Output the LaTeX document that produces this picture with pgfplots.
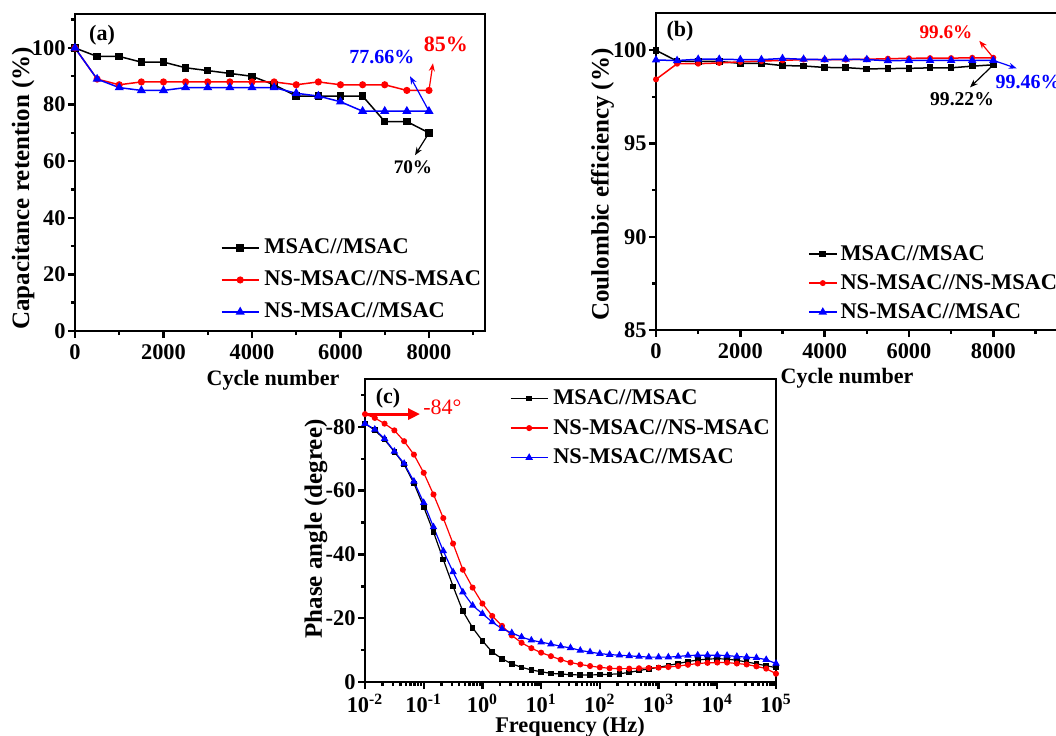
\documentclass[border=0pt]{standalone}
\usepackage{fontspec}
\setmainfont{Liberation Serif}
\usepackage{pgfplots}
\pgfplotsset{compat=1.18}
\usetikzlibrary{arrows.meta}
\definecolor{myred}{RGB}{255,0,0}
\definecolor{myblue}{RGB}{0,0,255}
\newcommand\tickfont{\bfseries\fontsize{11.2}{13}\selectfont}
\newcommand\labfont{\bfseries\fontsize{12.5}{15}\selectfont}
\pgfplotsset{
 base/.style={
  scale only axis, clip=false,
  axis line style={line width=1.3pt},
  every tick/.style={line width=1.2pt, black},
  major tick length=3.5pt,
  minor tick length=2pt,
  tick align=outside,
  tick pos=left,
  tick label style={font=\tickfont},
  yticklabel style={inner sep=1pt},
  legend cell align=left,
  legend style={draw=none, fill=none, inner sep=0pt, outer sep=0pt, anchor=west,
     font=\tickfont, row sep=6pt, column sep=2.5pt,
     nodes={inner sep=0pt, text height=8pt, text depth=2pt}},
 },
 limg/.style={legend image code/.code={\draw[mark repeat=2,mark phase=2,##1] plot coordinates {(0pt,0pt) (#1/2,0pt) (#1,0pt)};}},
}
\pgfplotstableread{
x y
0 100
500 97
1000 97
1500 95
2000 95
2500 93
3000 92
3500 91
4000 90
4500 87
5000 83
5500 83
6000 83
6500 83
7000 74
7500 74
8000 70
}\retA
\pgfplotstableread{
x y
0 100
500 89
1000 87
1500 88
2000 88
2500 88
3000 88
3500 88
4000 88
4500 88
5000 87
5500 88
6000 87
6500 87
7000 87
7500 85
8000 85
}\retB
\pgfplotstableread{
x y
0 100
500 89
1000 86
1500 85
2000 85
2500 86
3000 86
3500 86
4000 86
4500 86
5000 84
5500 83
6000 81
6500 77.66
7000 77.66
7500 77.66
8000 77.66
}\retC
\pgfplotstableread{
x y
0 100
500 99.42
1000 99.40
1500 99.40
2000 99.30
2500 99.30
3000 99.18
3500 99.16
4000 99.08
4500 99.07
5000 99.00
5500 99.02
6000 99.03
6500 99.06
7000 99.06
7500 99.15
8000 99.22
}\ceA
\pgfplotstableread{
x y
0 98.44
500 99.28
1000 99.28
1500 99.32
2000 99.38
2500 99.42
3000 99.46
3500 99.50
4000 99.50
4500 99.50
5000 99.52
5500 99.55
6000 99.57
6500 99.58
7000 99.58
7500 99.60
8000 99.60
}\ceB
\pgfplotstableread{
x y
0 99.48
500 99.45
1000 99.52
1500 99.52
2000 99.50
2500 99.50
3000 99.56
3500 99.52
4000 99.50
4500 99.52
5000 99.50
5500 99.44
6000 99.46
6500 99.46
7000 99.46
7500 99.46
8000 99.46
}\ceC
\pgfplotstableread{
f a b c
0.01 -81.0 -84.0 -81.0
0.01468 -79.0 -82.8 -79.2
0.02154 -76.0 -81.0 -76.3
0.03162 -72.2 -78.9 -72.3
0.04642 -68.2 -75.5 -68.5
0.06813 -62.3 -71.3 -62.9
0.1 -54.9 -65.6 -56.2
0.1468 -47.0 -58.8 -48.6
0.2154 -38.4 -51.4 -41.1
0.3162 -30.0 -43.4 -34.5
0.4642 -22.2 -35.2 -28.2
0.6813 -17.0 -29.6 -24.0
1 -12.9 -24.6 -21.4
1.468 -9.4 -20.7 -18.8
2.154 -7.3 -17.6 -16.7
3.162 -5.7 -14.6 -15.4
4.642 -4.6 -12.3 -14.1
6.813 -3.8 -10.6 -13.1
10 -3.2 -9.2 -12.5
14.68 -2.7 -8.1 -11.9
21.54 -2.5 -7.0 -11.2
31.62 -2.3 -6.1 -10.7
46.42 -2.2 -5.5 -9.9
68.13 -2.2 -5.0 -9.4
100 -2.3 -4.6 -8.9
146.8 -2.4 -4.3 -8.6
215.4 -2.6 -4.2 -8.4
316.2 -3.0 -4.2 -8.2
464.2 -3.6 -4.3 -8.0
681.3 -4.1 -4.4 -7.8
1000 -4.6 -4.5 -7.8
1468 -5.2 -4.7 -7.8
2154 -5.8 -5.0 -8.0
3162 -6.4 -5.4 -8.3
4642 -6.9 -5.8 -8.4
6813 -7.2 -6.0 -8.4
10000 -7.3 -6.1 -8.4
14680 -7.2 -6.1 -8.3
21540 -6.8 -5.8 -8.0
31620 -6.3 -5.5 -7.8
46420 -5.7 -4.9 -7.6
68130 -5.1 -4.2 -7.0
100000 -4.5 -2.6 -5.8
}\phase
\begin{document}
\begin{tikzpicture}
\useasboundingbox (0,0) rectangle (528pt,367.5pt);
\clip (0,0) rectangle (528pt,367.5pt);
% (a)
\begin{axis}[base, limg=18.5pt, at={(37.5pt,202pt)}, anchor=south west,
  width=205pt, height=158.5pt, xmin=0, xmax=9266, ymin=0, ymax=112,
  xtick={0,2000,4000,6000,8000}, xticklabels={0,2000,4000,6000,8000},
  minor xtick={1000,3000,5000,7000,9000},
  ytick={0,20,40,60,80,100}, yticklabels={0,20,40,60,80,100},
  minor ytick={10,30,50,70,90,110},
  legend style={at={(axis description cs:0.356,0.161)}}]
\addplot[black, line width=0.75pt, mark=square*, mark size=1.5pt] table[x=x,y=y] {\retA};
\addlegendentry{MSAC//MSAC}
\addplot[myred, line width=0.75pt, mark=*, mark size=1.4pt] table[x=x,y=y] {\retB};
\addlegendentry{NS-MSAC//NS-MSAC}
\addplot[myblue, line width=0.75pt, mark=triangle*, mark size=1.9pt] table[x=x,y=y] {\retC};
\addlegendentry{NS-MSAC//MSAC}
\draw[myblue, line width=0.6pt, -{Stealth[length=4pt,width=3pt]}] (axis cs:8000,77.66) -- (axis cs:7571,90);
\draw[myred, line width=0.6pt, -{Stealth[length=4pt,width=3pt]}] (axis cs:8000,85) -- (axis cs:8090,94.6);
\draw[black, line width=0.6pt, -{Stealth[length=4pt,width=3pt]}] (axis cs:8000,70) -- (axis cs:7684,62.1);
\node[myblue, font=\bfseries\fontsize{10}{12}\selectfont, inner sep=0pt] at (axis cs:6938,96.7) {77.66\%};
\node[myred, font=\bfseries\fontsize{11}{13}\selectfont, inner sep=0pt] at (axis cs:8384,101.3) {85\%};
\node[black, font=\bfseries\fontsize{9.6}{12}\selectfont, inner sep=0pt] at (axis cs:7638,57.9) {70\%};
\end{axis}
% (b)
\begin{axis}[base, limg=14pt, at={(328pt,202.5pt)}, anchor=south west,
  width=206.6pt, height=158.5pt, xmin=0, xmax=9800, ymin=85, ymax=102,
  xtick={0,2000,4000,6000,8000}, xticklabels={0,2000,4000,6000,8000},
  minor xtick={1000,3000,5000,7000,9000},
  ytick={85,90,95,100}, yticklabels={85,90,95,100},
  minor ytick={87.5,92.5,97.5},
  legend style={at={(axis description cs:0.368,0.148)}, row sep=4.5pt, column sep=1.5pt}]
\addplot[black, line width=0.75pt, mark=square*, mark size=1.3pt] table[x=x,y=y] {\ceA};
\addlegendentry{MSAC//MSAC}
\addplot[myred, line width=0.75pt, mark=*, mark size=1.1pt] table[x=x,y=y] {\ceB};
\addlegendentry{NS-MSAC//NS-MSAC}
\addplot[myblue, line width=0.75pt, mark=triangle*, mark size=1.7pt] table[x=x,y=y] {\ceC};
\addlegendentry{NS-MSAC//MSAC}
\draw[myred, line width=0.6pt, -{Stealth[length=4pt,width=3pt]}] (axis cs:8000,99.6) -- (axis cs:7668,100.51);
\draw[myblue, line width=0.6pt, -{Stealth[length=4pt,width=3pt]}] (axis cs:8000,99.46) -- (axis cs:8555,99.03);
\draw[black, line width=0.6pt, -{Stealth[length=4pt,width=3pt]}] (axis cs:8000,99.22) -- (axis cs:7447,98.01);
\node[myred, font=\bfseries\fontsize{9.6}{12}\selectfont, inner sep=0pt] at (axis cs:6878,100.97) {99.6\%};
\node[myblue, font=\bfseries\fontsize{10}{12}\selectfont, inner sep=0pt, anchor=west] at (axis cs:8047,98.28) {99.46\%};
\node[black, font=\bfseries\fontsize{9.8}{12}\selectfont, inner sep=0pt] at (axis cs:7258,97.37) {99.22\%};
\end{axis}
% (c)
\begin{axis}[base, limg=18.5pt, at={(182.5pt,26.5pt)}, anchor=south west,
  width=205.5pt, height=151.5pt, xmode=log, xmin=0.01, xmax=100000,
  y dir=reverse, ymin=-95, ymax=0,
  axis background/.style={fill=white},
  xtick={0.01,0.1,1,10,100,1000,10000,100000},
  xticklabels={10\textsuperscript{-2},10\textsuperscript{-1},10\textsuperscript{0},10\textsuperscript{1},10\textsuperscript{2},10\textsuperscript{3},10\textsuperscript{4},10\textsuperscript{5}},
  xticklabel style={yshift=1pt},
  minor xtick={},
  ytick={0,-20,-40,-60,-80}, yticklabels={{0},{-20},{-40},{-60},{-80}},
  minor ytick={-10,-30,-50,-70,-90},
  legend style={at={(axis description cs:0.353,0.838)}, row sep=4.75pt}]
\addplot[black, line width=0.6pt, mark=square*, mark size=1.1pt] table[x=f,y=a] {\phase};
\addlegendentry{MSAC//MSAC}
\addplot[myred, line width=0.6pt, mark=*, mark size=1.2pt] table[x=f,y=b] {\phase};
\addlegendentry{NS-MSAC//NS-MSAC}
\addplot[myblue, line width=0.6pt, mark=triangle*, mark size=1.6pt] table[x=f,y=c] {\phase};
\addlegendentry{NS-MSAC//MSAC}
\draw[myred, line width=1.5pt, -{Triangle[length=6pt,width=5.5pt]}] (axis cs:0.01,-84) -- (axis cs:0.0865,-84);
\node[myred, font=\fontsize{11}{13}\selectfont, inner sep=0pt, anchor=west] at (axis cs:0.0973,-86.1) {-84°};
\end{axis}
% labels
\node[font=\bfseries\fontsize{11}{13}\selectfont] at (51pt,350pt) {(a)};
\node[font=\bfseries\fontsize{11}{13}\selectfont] at (340pt,352pt) {(b)};
\node[font=\bfseries\fontsize{11}{13}\selectfont] at (194pt,168.5pt) {(c)};
\node[font=\labfont, rotate=90, inner sep=0pt] at (11.5pt,273.25pt) {Capacitance retention (\%)};
\node[font=\labfont, rotate=90, inner sep=0pt] at (301.25pt,275.25pt) {Coulombic efficiency (\%)};
\node[font=\labfont, rotate=90, inner sep=0pt] at (158pt,103pt) {Phase angle (degree)};
\node[font=\bfseries\fontsize{11}{13}\selectfont, inner sep=0pt, anchor=base] at (136.5pt,175pt) {Cycle number};
\node[font=\bfseries\fontsize{11}{13}\selectfont, inner sep=0pt, anchor=base] at (423.5pt,175.75pt) {Cycle number};
\node[font=\bfseries\fontsize{11.2}{13}\selectfont, inner sep=0pt, anchor=base] at (285pt,1.2pt) {Frequency (Hz)};
\end{tikzpicture}
\end{document}
